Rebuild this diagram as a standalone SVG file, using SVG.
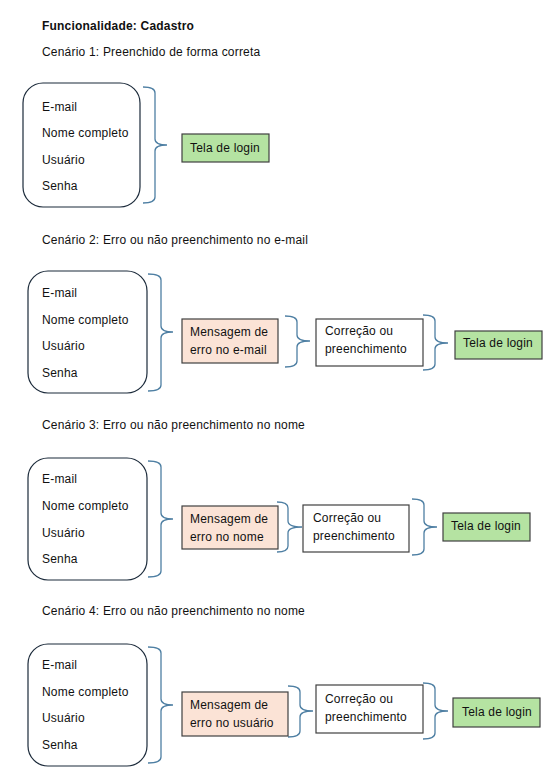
<svg xmlns="http://www.w3.org/2000/svg" width="553" height="781" viewBox="0 0 553 781">
<style>
text{font-family:"Liberation Sans",Arial,sans-serif;font-size:12px;fill:#111;letter-spacing:0.2px}
.title{font-weight:bold}
.form{fill:#fff;stroke:#1b2a3a;stroke-width:1.2}
.msg{fill:#fbe3d6;stroke:#404040;stroke-width:1.2}
.fix{fill:#fff;stroke:#404040;stroke-width:1.2}
.ok{fill:#b5e3a2;stroke:#404040;stroke-width:1.2}
.brace{fill:none;stroke:#4e7fa3;stroke-width:1.3}
</style>
<rect width="553" height="781" fill="#fff"/>
<text class="title" x="42" y="30">Funcionalidade: Cadastro</text>
<text x="42" y="56">Cenário 1: Preenchido de forma correta</text>
<text x="42" y="244">Cenário 2: Erro ou não preenchimento no e-mail</text>
<text x="42" y="429">Cenário 3: Erro ou não preenchimento no nome</text>
<text x="42" y="615">Cenário 4: Erro ou não preenchimento no nome</text>

<g id="connectors">
<path class="brace" d="M143 87 Q155 87 155 93 L155 139 Q155 145 167 145 Q155 145 155 151 L155 197 Q155 203 143 203"/>
<path class="brace" d="M148 274 Q161 274 161 280 L161 326 Q161 332 173 332 Q161 332 161 338 L161 385 Q161 391 148 391"/>
<path class="brace" d="M285 316 Q297 316 297 322 L297 335 Q297 341 310 341 Q297 341 297 347 L297 361 Q297 367 285 367"/>
<path class="brace" d="M423 315 Q435 315 435 321 L435 337 Q435 343 448 343 Q435 343 435 349 L435 364 Q435 370 423 370"/>
<path class="brace" d="M148 461 Q161 461 161 467 L161 513 Q161 519 173 519 Q161 519 161 525 L161 571 Q161 577 148 577"/>
<path class="brace" d="M277 502 Q288 502 288 508 L288 521 Q288 527 302 527 Q288 527 288 533 L288 546 Q288 552 277 552"/>
<path class="brace" d="M412 499 Q424 499 424 505 L424 521 Q424 527 437 527 Q424 527 424 533 L424 549 Q424 555 412 555"/>
<path class="brace" d="M148 647 Q161 647 161 653 L161 699 Q161 705 173 705 Q161 705 161 711 L161 757 Q161 763 148 763"/>
<path class="brace" d="M288 686 Q300 686 300 692 L300 705 Q300 711 313 711 Q300 711 300 717 L300 731 Q300 737 288 737"/>
<path class="brace" d="M423 683 Q435 683 435 689 L435 705 Q435 711 448 711 Q435 711 435 717 L435 733 Q435 739 423 739"/>
</g>

<g id="form1">
<rect class="form" x="23" y="83" width="117" height="124" rx="20"/>
<text x="42" y="111">E-mail</text><text x="42" y="137">Nome completo</text><text x="42" y="164">Usuário</text><text x="42" y="190">Senha</text>
</g>
<g id="login1"><rect class="ok" x="182" y="134" width="87" height="28"/><text x="190" y="152">Tela de login</text></g>

<g id="form2">
<rect class="form" x="28" y="271" width="119" height="122" rx="20"/>
<text x="42" y="297">E-mail</text><text x="42" y="324">Nome completo</text><text x="42" y="350">Usuário</text><text x="42" y="377">Senha</text>
</g>
<g id="msg2"><rect class="msg" x="182" y="319" width="96" height="44"/><text x="190" y="336">Mensagem de</text><text x="190" y="354">erro no e-mail</text></g>
<g id="fix2"><rect class="fix" x="316" y="319" width="107" height="47"/><text x="325" y="335">Correção ou</text><text x="325" y="353">preenchimento</text></g>
<g id="login2"><rect class="ok" x="455" y="331" width="87" height="28"/><text x="463" y="347">Tela de login</text></g>

<g id="form3">
<rect class="form" x="28" y="458" width="119" height="122" rx="20"/>
<text x="42" y="483">E-mail</text><text x="42" y="510">Nome completo</text><text x="42" y="537">Usuário</text><text x="42" y="563">Senha</text>
</g>
<g id="msg3"><rect class="msg" x="182" y="506" width="96" height="43"/><text x="190" y="523">Mensagem de</text><text x="190" y="541">erro no nome</text></g>
<g id="fix3"><rect class="fix" x="303" y="505" width="106" height="47"/><text x="313" y="522">Correção ou</text><text x="313" y="540">preenchimento</text></g>
<g id="login3"><rect class="ok" x="443" y="513" width="87" height="28"/><text x="451" y="530">Tela de login</text></g>

<g id="form4">
<rect class="form" x="28" y="644" width="119" height="122" rx="20"/>
<text x="42" y="669">E-mail</text><text x="42" y="696">Nome completo</text><text x="42" y="722">Usuário</text><text x="42" y="749">Senha</text>
</g>
<g id="msg4"><rect class="msg" x="182" y="692" width="106" height="44"/><text x="190" y="709">Mensagem de</text><text x="190" y="727">erro no usuário</text></g>
<g id="fix4"><rect class="fix" x="316" y="685" width="107" height="48"/><text x="325" y="703">Correção ou</text><text x="325" y="721">preenchimento</text></g>
<g id="login4"><rect class="ok" x="453" y="698" width="87" height="29"/><text x="462" y="716">Tela de login</text></g>
</svg>
